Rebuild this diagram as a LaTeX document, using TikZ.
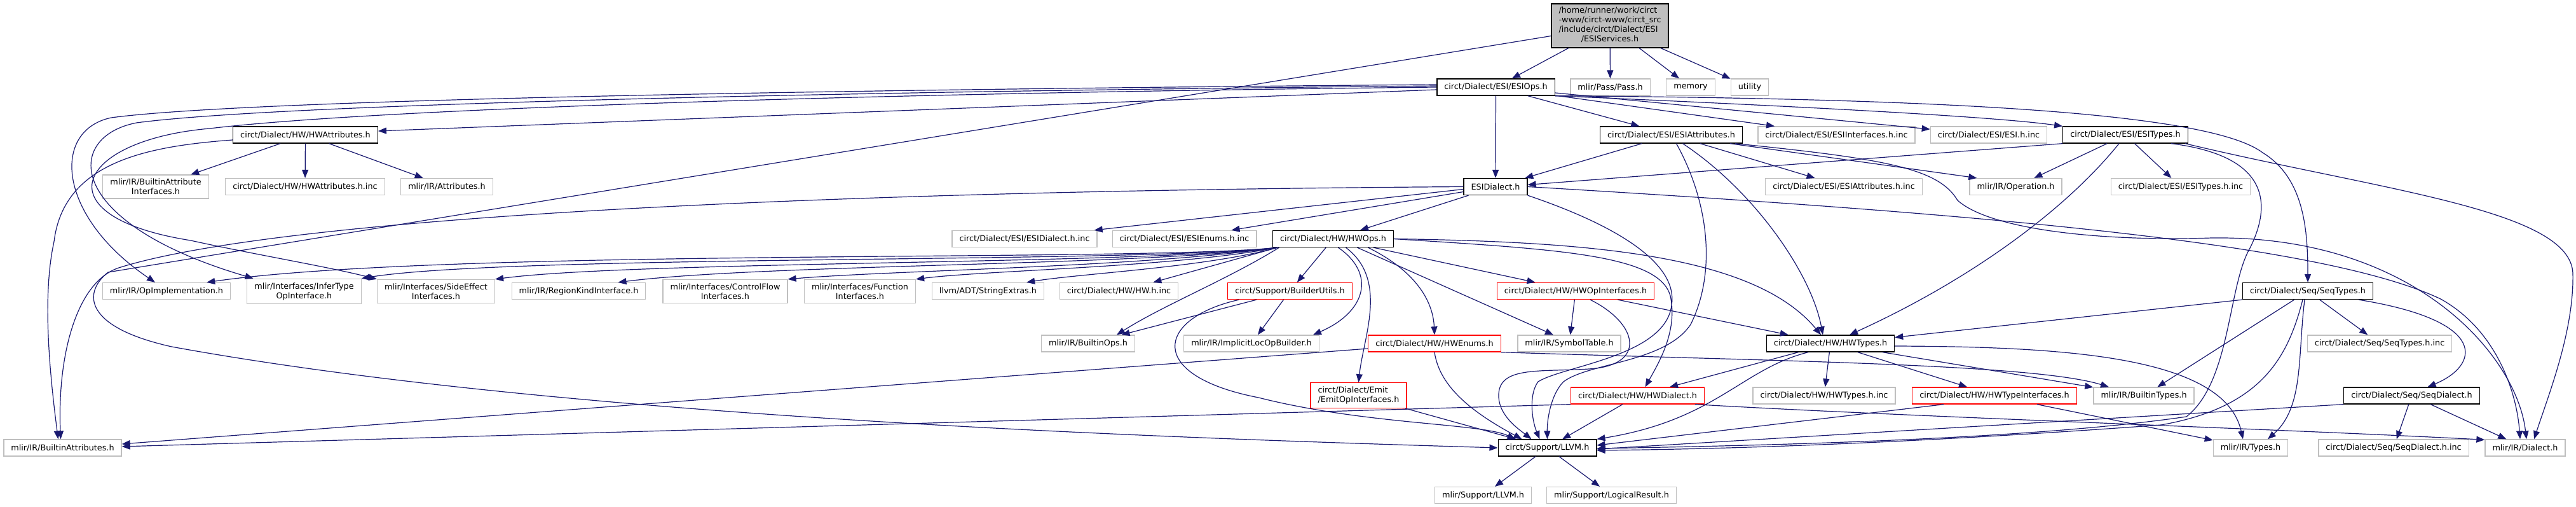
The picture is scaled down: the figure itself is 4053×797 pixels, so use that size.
\documentclass[tikz,border=0pt]{standalone}
\usepackage{fontspec}
\setmainfont{DejaVu Sans}
\usetikzlibrary{arrows.meta}
\definecolor{incblue}{RGB}{25,25,112}
\definecolor{filegray}{RGB}{191,191,191}
\begin{document}
\begin{tikzpicture}[x=1pt,y=-1pt,
  file/.style={draw=filegray,line width=1.3pt,inner xsep=11.5pt,inner ysep=6pt,minimum height=26pt,align=center,font=\fontsize{12.8}{15}\selectfont},
  docfile/.style={file,draw=black},
  redfile/.style={file,draw=red},
  rootfile/.style={file,draw=black,fill=filegray,inner ysep=4.5pt},
  inc/.style={draw=incblue,line width=1.2pt,-{Triangle[length=13pt,width=10pt]}}]
  \path[use as bounding box,fill=white] (0,0) rectangle (4053,797);

  \node[rootfile] (root) at (2533,40.5) {\begin{tabular}{@{}l@{}}/home/runner/work/circt\\-www/circt-www/circt\_src\\/include/circt/Dialect/ESI\\\multicolumn{1}{@{}c@{}}{/ESIServices.h}\end{tabular}};

  \node[docfile] (esiops) at (2353.5,137) {circt/Dialect/ESI/ESIOps.h};
  \node[file] (pass) at (2533.5,137) {mlir/Pass/Pass.h};
  \node[file] (memory) at (2660,137) {memory};
  \node[file] (utility) at (2753,137) {utility};

  \node[docfile] (hwattr) at (480.5,212) {circt/Dialect/HW/HWAttributes.h};
  \node[docfile] (esiattr) at (2629.5,212) {circt/Dialect/ESI/ESIAttributes.h};
  \node[file] (esiintf) at (2889.5,212) {circt/Dialect/ESI/ESIInterfaces.h.inc};
  \node[file] (esiinc) at (3129,212) {circt/Dialect/ESI/ESI.h.inc};
  \node[docfile] (esitypes) at (3344,212) {circt/Dialect/ESI/ESITypes.h};

  \node[file] (battrintf) at (245,293.5) {mlir/IR/BuiltinAttribute\\Interfaces.h};
  \node[file] (hwattrinc) at (480,293.5) {circt/Dialect/HW/HWAttributes.h.inc};
  \node[file] (attributes) at (703,293.5) {mlir/IR/Attributes.h};
  \node[docfile] (esidialect) at (2353,293.5) {ESIDialect.h};
  \node[file] (esiattrinc) at (2901,293.5) {circt/Dialect/ESI/ESIAttributes.h.inc};
  \node[file] (operation) at (3171.5,293.5) {mlir/IR/Operation.h};
  \node[file] (esitypesinc) at (3431,293.5) {circt/Dialect/ESI/ESITypes.h.inc};

  \node[file] (esidialectinc) at (1612,375.5) {circt/Dialect/ESI/ESIDialect.h.inc};
  \node[file] (esienumsinc) at (1863.5,375.5) {circt/Dialect/ESI/ESIEnums.h.inc};
  \node[docfile] (hwops) at (2097.5,375.5) {circt/Dialect/HW/HWOps.h};

  \node[file] (opimpl) at (262,457.5) {mlir/IR/OpImplementation.h};
  \node[file] (infertype) at (478.5,458) {mlir/Interfaces/InferType\\OpInterface.h};
  \node[file] (sideeffect) at (686,458) {mlir/Interfaces/SideEffect\\Interfaces.h};
  \node[file] (regionkind) at (910.5,457.5) {mlir/IR/RegionKindInterface.h};
  \node[file] (controlflow) at (1141,458) {mlir/Interfaces/ControlFlow\\Interfaces.h};
  \node[file] (function) at (1353,458) {mlir/Interfaces/Function\\Interfaces.h};
  \node[file] (stringextras) at (1554.5,457.5) {llvm/ADT/StringExtras.h};
  \node[file] (hwinc) at (1760.5,457.5) {circt/Dialect/HW/HW.h.inc};
  \node[redfile] (builderutils) at (2029.5,457.5) {circt/Support/BuilderUtils.h};
  \node[redfile] (hwopintf) at (2479,457.5) {circt/Dialect/HW/HWOpInterfaces.h};
  \node[docfile] (seqtypes) at (3631,457.5) {circt/Dialect/Seq/SeqTypes.h};

  \node[file] (builtinops) at (1712,540) {mlir/IR/BuiltinOps.h};
  \node[file] (implicitloc) at (1969,540) {mlir/IR/ImplicitLocOpBuilder.h};
  \node[redfile] (hwenums) at (2257,540) {circt/Dialect/HW/HWEnums.h};
  \node[file] (symboltable) at (2469,540) {mlir/IR/SymbolTable.h};
  \node[docfile] (hwtypes) at (2880,540) {circt/Dialect/HW/HWTypes.h};
  \node[file] (seqtypesinc) at (3744,540) {circt/Dialect/Seq/SeqTypes.h.inc};

  \node[redfile,align=left] (emitopintf) at (2137.5,621.5) {circt/Dialect/Emit\\/EmitOpInterfaces.h};
  \node[redfile] (hwdialect) at (2576.5,622) {circt/Dialect/HW/HWDialect.h};
  \node[file] (hwtypesinc) at (2870,622) {circt/Dialect/HW/HWTypes.h.inc};
  \node[redfile] (hwtypeintf) at (3138,622) {circt/Dialect/HW/HWTypeInterfaces.h};
  \node[file] (builtintypes) at (3373,622) {mlir/IR/BuiltinTypes.h};
  \node[docfile] (seqdialect) at (3794.5,622) {circt/Dialect/Seq/SeqDialect.h};

  \node[file] (builtinattr) at (98.5,704) {mlir/IR/BuiltinAttributes.h};
  \node[docfile] (llvm) at (2434.5,704) {circt/Support/LLVM.h};
  \node[file] (types) at (3541,704) {mlir/IR/Types.h};
  \node[file] (seqdialectinc) at (3766,704) {circt/Dialect/Seq/SeqDialect.h.inc};
  \node[file] (dialect) at (3973,704) {mlir/IR/Dialect.h};

  \node[file] (mlirllvm) at (2333.5,778.5) {mlir/Support/LLVM.h};
  \node[file] (logicalresult) at (2535.5,778.5) {mlir/Support/LogicalResult.h};

  \draw[inc] (root) -- (esiops);
  \draw[inc] (root) -- (pass);
  \draw[inc] (root) -- (memory);
  \draw[inc] (root) -- (utility);
  \draw[inc] ([yshift=-16pt]root.west) -- (170,428) .. controls (128,462) and (135,515) .. (270,545) .. controls (900,660) and (1900,690) .. (llvm.west);

  \draw[inc] ([yshift=-4pt]esiops.west) -- ([yshift=6pt]hwattr.east);
  \draw[inc] ([yshift=4pt]esiops.west) .. controls (1400,140) and (400,155) .. (175,185) .. controls (80,205) and (90,340) .. ([xshift=-18pt]opimpl.north);
  \draw[inc] ([yshift=2pt]esiops.west) .. controls (1400,143) and (450,162) .. (215,193) .. controls (100,215) and (100,350) .. ([xshift=-80pt]infertype.north);
  \draw[inc] (esiops.west) .. controls (1400,146) and (600,170) .. (330,202) .. controls (120,220) and (60,340) .. (300,378) .. controls (400,400) and (520,420) .. (sideeffect.north west);
  \draw[inc] (esiops) -- (esidialect);
  \draw[inc] (esiops) -- (esiattr);
  \draw[inc] (esiops) -- (esiintf);
  \draw[inc] (esiops) -- (esiinc);
  \draw[inc] (esiops.south east) .. controls (2900,170) and (3150,185) .. (esitypes.north west);
  \draw[inc] (esiops.south east) .. controls (3100,155) and (3480,180) .. (3560,240) .. controls (3625,280) and (3631,360) .. (seqtypes.north);

  \draw[inc] (hwattr) -- (battrintf);
  \draw[inc] (hwattr) -- (hwattrinc);
  \draw[inc] (hwattr) -- (attributes);
  \draw[inc] ([yshift=-8pt]hwattr.west) .. controls (230,230) and (100,255) .. (85,380) .. controls (65,470) and (80,600) .. ([xshift=-7pt]builtinattr.north);

  \draw[inc] (esiattr) -- (esidialect);
  \draw[inc] (esiattr) -- (esiattrinc);
  \draw[inc] ([xshift=-20pt]esiattr.south east) -- ([xshift=12pt]operation.north west);
  \draw[inc] ([xshift=-12pt]esiattr.south east) .. controls (2970,250) and (3050,265) .. (3080,315) .. controls (3130,360) and (3300,380) .. (3480,374) .. controls (3800,370) and (3960,560) .. ([xshift=2pt]dialect.north);
  \draw[inc] ([xshift=8pt]esiattr.south) .. controls (2690,320) and (2700,430) .. (2660,510) .. controls (2620,570) and (2500,570) .. (2460,600) .. controls (2440,620) and (2434,660) .. (llvm.north);
  \draw[inc] ([xshift=18pt]esiattr.south) .. controls (2760,300) and (2850,430) .. ([xshift=-12pt]hwtypes.north);

  \draw[inc] (esidialect.west) .. controls (1300,300) and (450,340) .. (190,420) .. controls (120,440) and (90,560) .. ([xshift=-3pt]builtinattr.north);
  \draw[inc] ([yshift=-4pt]esidialect.west) -- ([xshift=-5pt]esidialectinc.north east);
  \draw[inc] ([yshift=-8pt]esidialect.west) -- ([xshift=-40pt]esienumsinc.north east);
  \draw[inc] (esidialect) -- (hwops);
  \draw[inc] (esidialect.east) .. controls (3100,335) and (3650,380) .. (3840,470) .. controls (3930,520) and (3960,620) .. ([xshift=-8pt]dialect.north);
  \draw[inc] (esidialect.south east) .. controls (2560,360) and (2640,420) .. (2630,480) .. controls (2620,560) and (2460,575) .. (2420,600) .. controls (2405,620) and (2410,660) .. ([xshift=-12pt]llvm.north);

  \draw[inc] ([xshift=8pt]hwops.south west) .. controls (1800,412) and (700,390) .. ([xshift=-38pt]opimpl.north east);
  \draw[inc] ([xshift=8pt]hwops.south west) .. controls (1800,414) and (800,400) .. (infertype.north east);
  \draw[inc] ([xshift=8pt]hwops.south west) .. controls (1800,416) and (1000,410) .. (sideeffect.north east);
  \draw[inc] ([xshift=8pt]hwops.south west) .. controls (1800,418) and (1200,415) .. ([xshift=-44pt]regionkind.north east);
  \draw[inc] ([xshift=8pt]hwops.south west) .. controls (1800,420) and (1400,425) .. (controlflow.north east);
  \draw[inc] ([xshift=8pt]hwops.south west) .. controls (1850,420) and (1550,425) .. (function.north east);
  \draw[inc] ([xshift=8pt]hwops.south west) .. controls (1900,420) and (1700,430) .. ([xshift=-28pt]stringextras.north east);
  \draw[inc] ([xshift=8pt]hwops.south west) -- ([xshift=-40pt]hwinc.north east);
  \draw[inc] (hwops) -- (builderutils);
  \draw[inc] ([xshift=-85pt]hwops.south) .. controls (1930,440) and (1830,480) .. ([xshift=45pt]builtinops.north);
  \draw[inc] ([xshift=8pt]hwops.south) .. controls (2165,430) and (2150,490) .. ([xshift=-10pt]implicitloc.north east);
  \draw[inc] ([xshift=20pt]hwops.south) .. controls (2185,440) and (2145,530) .. (emitopintf.north);
  \draw[inc] ([xshift=55pt]hwops.south) .. controls (2235,430) and (2255,480) .. (hwenums.north);
  \draw[inc] ([xshift=38pt]hwops.south) -- ([xshift=-25pt]symboltable.north);
  \draw[inc] (hwops) -- (hwopintf);
  \draw[inc] (hwops.east) .. controls (2450,392) and (2610,400) .. (2628,465) .. controls (2640,520) and (2610,570) .. ([xshift=12pt]hwdialect.north);
  \draw[inc] (hwops.east) .. controls (2500,380) and (2760,400) .. ([xshift=-15pt]hwtypes.north);

  \draw[inc] (hwopintf) -- (symboltable);
  \draw[inc] (hwopintf) -- (hwtypes);
  \draw[inc] ([xshift=23pt]hwopintf.south) .. controls (2580,510) and (2590,575) .. (2500,580) .. controls (2420,585) and (2355,575) .. (2358,625) .. controls (2360,655) and (2390,675) .. ([xshift=-25pt]llvm.north);

  \draw[inc] (builderutils) -- (builtinops);
  \draw[inc] (builderutils) -- (implicitloc);
  \draw[inc] ([xshift=-80pt]builderutils.south) .. controls (1820,500) and (1800,590) .. (1980,625) .. controls (2150,668) and (2330,665) .. ([xshift=-50pt]llvm.north);

  \draw[inc] ([yshift=-8pt]hwenums.west) -- ([yshift=6pt]builtinattr.east);
  \draw[inc] (hwenums.south) .. controls (2265,610) and (2320,650) .. ([xshift=-40pt]llvm.north);
  \draw[inc] (hwenums.south east) .. controls (2800,568) and (3200,572) .. ([xshift=-55pt]builtintypes.north);

  \draw[inc] (emitopintf) -- (llvm);

  \draw[inc] (hwtypes) -- (hwdialect);
  \draw[inc] ([xshift=-35pt]hwtypes.south) .. controls (2740,580) and (2700,660) .. (llvm.north east);
  \draw[inc] (hwtypes) -- (hwtypesinc);
  \draw[inc] (hwtypes) -- (hwtypeintf);
  \draw[inc] (hwtypes) -- (builtintypes);
  \draw[inc] ([yshift=-4pt]hwtypes.east) .. controls (3250,545) and (3500,560) .. ([xshift=-12pt]types.north);

  \draw[inc] ([xshift=50pt]hwtypeintf.south west) -- ([yshift=4pt]llvm.east);
  \draw[inc] (hwtypeintf) -- (types);

  \draw[inc] (hwdialect.south west) -- ([yshift=2pt]builtinattr.east);
  \draw[inc] (hwdialect) -- (llvm);
  \draw[inc] ([xshift=-15pt]hwdialect.south east) .. controls (3000,655) and (3600,675) .. ([yshift=-1pt]dialect.north west);

  \draw[inc] (seqtypes.south west) -- ([yshift=-4pt]hwtypes.north east);
  \draw[inc] (seqtypes) -- (builtintypes);
  \draw[inc] ([xshift=-5pt]seqtypes.south) .. controls (3615,560) and (3625,640) .. ([xshift=27pt]types.north);
  \draw[inc] ([xshift=-8pt]seqtypes.south) .. controls (3600,560) and (3560,640) .. (3400,668) .. controls (3100,690) and (2800,705) .. ([yshift=-4pt]llvm.east);
  \draw[inc] (seqtypes) -- (seqtypesinc);
  \draw[inc] ([xshift=80pt]seqtypes.south) .. controls (3920,505) and (3900,575) .. ([xshift=25pt]seqdialect.north);

  \draw[inc] (seqdialect) -- (seqdialectinc);
  \draw[inc] (seqdialect) -- (dialect);
  \draw[inc] (seqdialect.south west) -- ([yshift=-2pt]llvm.east);

  \draw[inc] (esitypes.south west) -- ([yshift=3pt]esidialect.east);
  \draw[inc] (esitypes) -- (operation);
  \draw[inc] (esitypes) -- (esitypesinc);
  \draw[inc] ([xshift=-10pt]esitypes.south) .. controls (3250,330) and (3100,440) .. ([xshift=30pt]hwtypes.north);
  \draw[inc] ([xshift=72pt]esitypes.south) .. controls (3570,245) and (3575,320) .. (3540,390) .. controls (3505,450) and (3510,600) .. (3440,655) .. controls (3200,690) and (2800,700) .. ([yshift=-1pt]llvm.east);
  \draw[inc] ([xshift=94pt]esitypes.south) .. controls (3750,300) and (4045,330) .. (4048,430) .. controls (4050,520) and (4010,620) .. ([xshift=14pt]dialect.north);

  \draw[inc] (llvm) -- (mlirllvm);
  \draw[inc] (llvm) -- (logicalresult);
\end{tikzpicture}
\end{document}
